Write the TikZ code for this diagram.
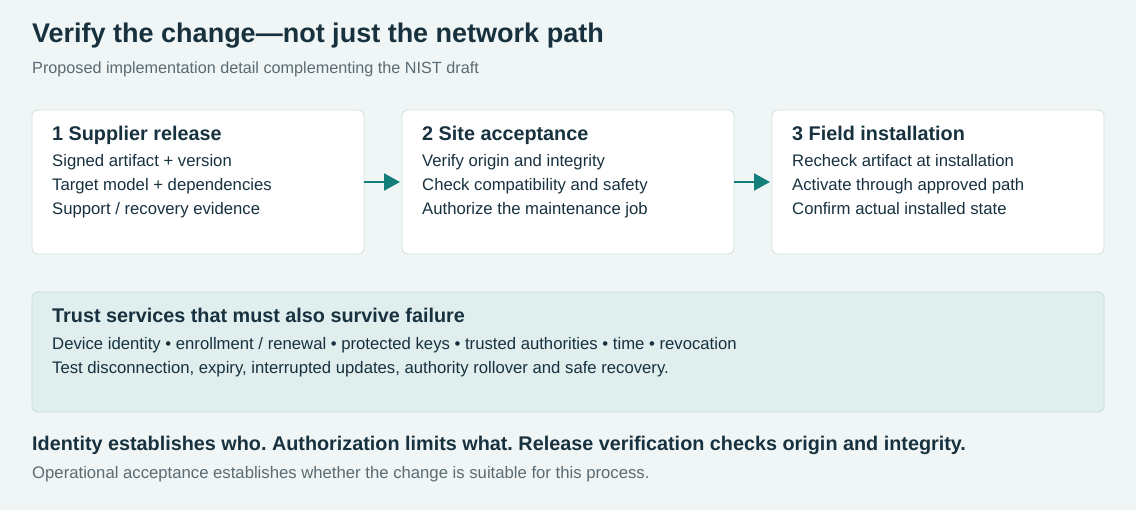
\documentclass[tikz,border=0pt]{standalone}
\usepackage{fontspec}
\setmainfont{Liberation Sans}
\frenchspacing
\usetikzlibrary{arrows.meta}
\definecolor{bg}{HTML}{F0F5F5}
\definecolor{ink}{HTML}{17313F}
\definecolor{sub}{HTML}{5A6B73}
\definecolor{edge}{HTML}{D3E0E0}
\definecolor{teal}{HTML}{147F7A}
\definecolor{tfill}{HTML}{E0EEEE}
\definecolor{tedge}{HTML}{C8DCDC}
\begin{document}
\begin{tikzpicture}[x=1pt,y=-1pt,
  card/.style={draw=edge,fill=white,rounded corners=6pt,line width=0.8pt},
  txt/.style={anchor=base west,inner sep=0pt,text=ink,font=\fontsize{16.7}{20}\selectfont},
  hd/.style={anchor=base west,inner sep=0pt,text=ink,font=\fontsize{19.8}{24}\selectfont\bfseries},
  arr/.style={-{Triangle[length=16pt,width=17pt]},draw=teal,line width=2.2pt}]
\fill[bg] (0,0) rectangle (1136,510);
\node[anchor=base west,inner sep=0pt,text=ink,font=\fontsize{27}{32}\selectfont\bfseries] (title) at (32,43) {Verify the change—not just the network path};
\node[anchor=base west,inner sep=0pt,text=sub,font=\fontsize{16.2}{19}\selectfont] (subt) at (32,74) {Proposed implementation detail complementing the NIST draft};
\foreach \i/\x/\h/\a/\b/\c in {1/32/1 Supplier release/Signed artifact + version/Target model + dependencies/{Support / recovery evidence},
  2/402/2 Site acceptance/Verify origin and integrity/Check compatibility and safety/Authorize the maintenance job,
  3/772/3 Field installation/Recheck artifact at installation/Activate through approved path/Confirm actual installed state}{
  \path[card] (\x,110) rectangle ++(332,144);
  \coordinate (b\i w) at (\x,182);
  \coordinate (b\i e) at (\x+332,182);
  \node[hd] (h\i) at (\x+20,141) {\h};
  \node[txt] (l\i a) at (\x+20,167) {\a};
  \node[txt] (l\i b) at (\x+20,191) {\b};
  \node[txt] (l\i c) at (\x+20,215) {\c};
}
\draw[arr] (b1e) -- ([xshift=-2pt]b2w);
\draw[arr] (b2e) -- ([xshift=-2pt]b3w);
\path[draw=tedge,fill=tfill,rounded corners=6pt,line width=0.8pt] (32,292) rectangle (1104,412);
\node[hd] (th) at (52,323) {Trust services that must also survive failure};
\node[txt] (t1) at (52,350) {Device identity • enrollment / renewal • protected keys • trusted authorities • time • revocation};
\node[txt] (t2) at (52,374) {Test disconnection, expiry, interrupted updates, authority rollover and safe recovery.};
\node[hd] (f1) at (32,451) {Identity establishes who. Authorization limits what. Release verification checks origin and integrity.};
\node[anchor=base west,inner sep=0pt,text=sub,font=\fontsize{16.7}{20}\selectfont] (f2) at (32,479) {Operational acceptance establishes whether the change is suitable for this process.};
\end{tikzpicture}
\end{document}
